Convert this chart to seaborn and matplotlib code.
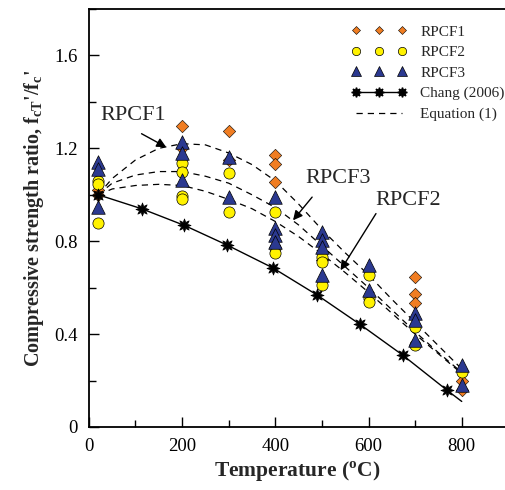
import matplotlib
matplotlib.use("Agg")
import matplotlib.pyplot as plt
from matplotlib.lines import Line2D
from matplotlib.ticker import MultipleLocator
import pandas as pd
import seaborn as sns

# test data
rpcf1_temp = [20, 20, 200, 200, 300, 300, 400, 400, 400, 500, 700, 700, 700, 800, 800]
rpcf1_ratio = [1.02, 1.00, 1.295, 1.20, 1.274, 1.15, 1.17, 1.134, 1.055, 0.72, 0.646, 0.572, 0.535, 0.20, 0.16]

rpcf2_temp = [20, 20, 20, 200, 200, 200, 200, 300, 300, 400, 400, 400, 500, 500, 500, 600, 600, 600, 700, 700, 800]
rpcf2_ratio = [1.06, 1.045, 0.88, 1.135, 1.097, 0.993, 0.98, 1.092, 0.926, 0.926, 0.77, 0.748,
               0.733, 0.71, 0.61, 0.654, 0.555, 0.539, 0.431, 0.353, 0.238]

rpcf3_temp = [20, 20, 20, 200, 200, 200, 300, 300, 400, 400, 400, 400, 500, 500, 500, 500,
              600, 600, 700, 700, 700, 800, 800]
rpcf3_ratio = [1.14, 1.11, 0.946, 1.227, 1.178, 1.062, 1.163, 0.99, 0.99, 0.856, 0.826, 0.797,
               0.84, 0.804, 0.776, 0.654, 0.697, 0.589, 0.489, 0.46, 0.374, 0.267, 0.18]

# Chang (2006)
chang_temp = [20, 113, 205, 297, 395, 490, 581, 673, 768]
chang_ratio = [1.0, 0.94, 0.868, 0.783, 0.685, 0.568, 0.443, 0.31, 0.159]
chang_line_temp = [20, 113, 205, 297, 395, 490, 581, 673, 768, 800]
chang_line_ratio = [1.0, 0.94, 0.868, 0.783, 0.685, 0.568, 0.443, 0.31, 0.159, 0.11]

# Equation (1) curves
eq_temp = [20, 50, 100, 150, 200, 250, 300, 350, 400, 450, 500, 550, 600, 650, 700, 750, 800]
eq_rpcf1 = [1.00, 1.07, 1.15, 1.20, 1.22, 1.215, 1.18, 1.13, 1.06, 0.96, 0.85, 0.75, 0.655, 0.55, 0.45, 0.35, 0.25]
eq_rpcf3 = [1.00, 1.05, 1.085, 1.10, 1.10, 1.08, 1.05, 1.00, 0.945, 0.87, 0.78, 0.69, 0.60, 0.505, 0.41, 0.32, 0.235]
eq_rpcf2 = [1.00, 1.025, 1.04, 1.045, 1.04, 1.015, 0.98, 0.94, 0.885, 0.82, 0.745, 0.665, 0.58, 0.49, 0.40, 0.315, 0.23]

c_orange = "#F07D22"
c_yellow = "#FFF200"
c_blue = "#2B3990"
star = (8, 1, 0)

sns.set_style("ticks", {"axes.edgecolor": "black", "xtick.color": "black", "ytick.color": "black"})
plt.rcParams["font.family"] = ["Liberation Serif", "DejaVu Serif"]
plt.rcParams["mathtext.fontset"] = "custom"
plt.rcParams["mathtext.rm"] = "Liberation Serif"
plt.rcParams["mathtext.bf"] = "Liberation Serif:bold"

fig = plt.figure(figsize=(5.05, 4.9), dpi=100)
ax = fig.add_axes([0.176, 0.1286, 0.826, 0.853])

# dashed equation curves
for vals in [eq_rpcf1, eq_rpcf3, eq_rpcf2]:
    sns.lineplot(x=eq_temp, y=vals, ax=ax, color="black", lw=0.9,
                 linestyle=(0, (5, 4)), sort=False, zorder=2)

# Chang (2006)
sns.lineplot(x=chang_line_temp, y=chang_line_ratio, ax=ax, color="black", lw=1.0, sort=False, zorder=2)
sns.scatterplot(x=chang_temp, y=chang_ratio, ax=ax, marker=star, s=90, color="black",
                edgecolor="black", linewidth=0.5, zorder=4)

sns.scatterplot(x=rpcf1_temp, y=rpcf1_ratio, ax=ax, marker="D", s=40, color=c_orange,
                edgecolor="black", linewidth=0.4, zorder=3)
sns.scatterplot(x=rpcf2_temp, y=rpcf2_ratio, ax=ax, marker="o", s=65, color=c_yellow,
                edgecolor="black", linewidth=0.5, zorder=3)
sns.scatterplot(x=rpcf3_temp, y=rpcf3_ratio, ax=ax, marker="^", s=95, color=c_blue,
                edgecolor="black", linewidth=0.5, zorder=3)

ax.set_xlim(0, 895)
ax.set_ylim(0, 1.8)
ax.xaxis.set_major_locator(MultipleLocator(200))
ax.xaxis.set_minor_locator(MultipleLocator(100))
ax.yaxis.set_major_locator(MultipleLocator(0.4))
ax.yaxis.set_minor_locator(MultipleLocator(0.2))
ax.set_yticks([0, 0.4, 0.8, 1.2, 1.6])
ax.set_yticklabels(["0", "0.4", "0.8", "1.2", "1.6"])
ax.tick_params(which="major", direction="in", length=7, width=1.0, labelsize=13.5, pad=8)
ax.tick_params(which="minor", direction="in", length=5, width=1.0)
for sp in ax.spines.values():
    sp.set_linewidth(1.3)

ax.set_xlabel(r"Temperature ($^{\mathbf{o}}$C)", fontsize=15.5, fontweight="bold", labelpad=3)
ax.set_ylabel(r"Compressive strength ratio, $\mathbf{f_{cT}}$'/$\mathbf{f_c}$'",
              fontsize=14.5, fontweight="bold", labelpad=6)

# annotations
arrow = dict(arrowstyle="-|>", color="black", lw=1.0, mutation_scale=14, shrinkA=0, shrinkB=0)
ax.text(94, 1.342, "RPCF1", fontsize=16, ha="center", va="center")
ax.annotate("", xy=(166, 1.205), xytext=(113, 1.263), arrowprops=arrow)
ax.text(535, 1.071, "RPCF3", fontsize=16, ha="center", va="center")
ax.annotate("", xy=(438, 0.89), xytext=(479, 0.99), arrowprops=arrow)
ax.text(686, 0.976, "RPCF2", fontsize=16, ha="center", va="center")
ax.annotate("", xy=(540, 0.675), xytext=(616, 0.919), arrowprops=arrow)

handles = [
    Line2D([], [], ls="none", marker="D", ms=4.5, mfc=c_orange, mec="black", mew=0.4),
    Line2D([], [], ls="none", marker="o", ms=6, mfc=c_yellow, mec="black", mew=0.5),
    Line2D([], [], ls="none", marker="^", ms=7, mfc=c_blue, mec="black", mew=0.5),
    Line2D([], [], color="black", lw=1.0, marker=star, ms=7, mfc="black", mec="black"),
    Line2D([], [], color="black", lw=0.9, linestyle=(0, (5, 4))),
]
labels = ["RPCF1", "RPCF2", "RPCF3", "Chang (2006)", "Equation (1)"]
ax.legend(handles, labels, loc="upper right", bbox_to_anchor=(1.03, 0.995), frameon=False,
          fontsize=11, numpoints=3, handlelength=3.6, handletextpad=0.9, labelspacing=0.45)

fig.savefig("out.png", dpi=100)
